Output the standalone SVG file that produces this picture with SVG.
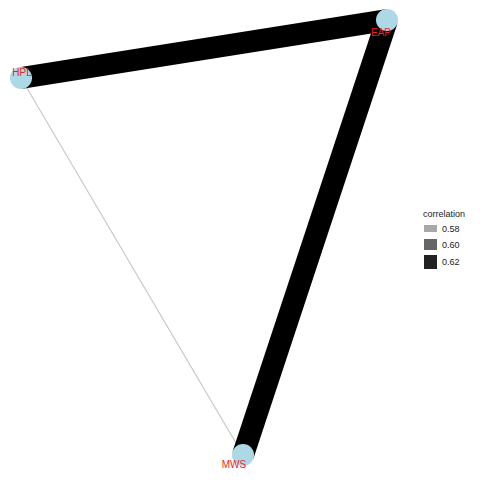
<svg xmlns="http://www.w3.org/2000/svg" width="480" height="480" viewBox="0 0 480 480">
<style>
.node{fill:#add8e6}
.lbl{font-family:"Liberation Sans",Arial,sans-serif;font-size:10px;fill:#ee1c24;text-anchor:middle}
.leg{font-family:"Liberation Sans",Arial,sans-serif;font-size:9px;fill:#1a1a1a}
</style>
<rect width="480" height="480" fill="#ffffff"/>
<g id="edges">
<line x1="21" y1="78" x2="243" y2="455" stroke="#c8c8c8" stroke-width="1.2"/>
<line x1="21" y1="78" x2="387" y2="20" stroke="#000000" stroke-width="22"/>
<line x1="387" y1="20" x2="243" y2="455" stroke="#000000" stroke-width="22"/>
</g>
<g id="HPL"><circle class="node" cx="21" cy="78" r="11"/><text class="lbl" x="22" y="76">HPL</text></g>
<g id="EAP"><circle class="node" cx="387" cy="20" r="11"/><text class="lbl" x="381" y="36">EAP</text></g>
<g id="MWS"><circle class="node" cx="243" cy="455" r="11"/><text class="lbl" x="234" y="468">MWS</text></g>
<g id="legend">
<text class="leg" x="423" y="217" font-size="10">correlation</text>
<rect x="424" y="225" width="13" height="7" fill="#a8a8a8"/>
<text class="leg" x="442" y="232">0.58</text>
<rect x="424" y="239" width="13" height="11" fill="#666666"/>
<text class="leg" x="442" y="248">0.60</text>
<rect x="424" y="255" width="13" height="14" fill="#222222"/>
<text class="leg" x="442" y="265">0.62</text>
</g>
</svg>
